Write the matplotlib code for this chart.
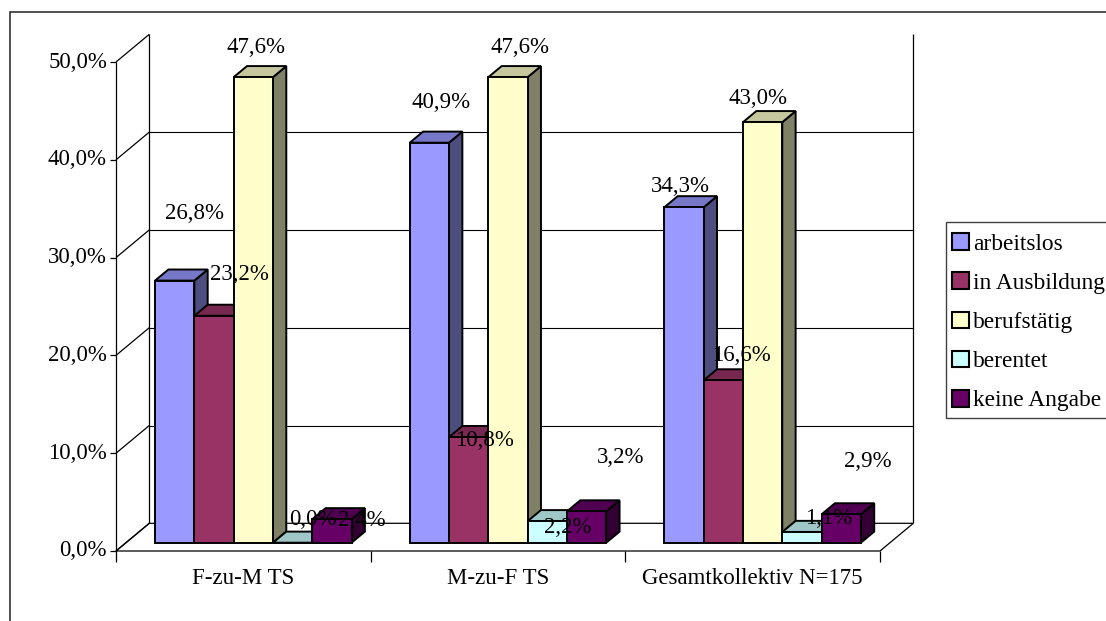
import matplotlib
matplotlib.use("Agg")
import matplotlib.pyplot as plt
from matplotlib.patches import Polygon, Rectangle, Patch
from matplotlib.colors import to_rgb

# ---- data -------------------------------------------------------------
categories = ["F-zu-M TS", "M-zu-F TS", "Gesamtkollektiv N=175"]
series = ["arbeitslos", "in Ausbildung", "berufstätig", "berentet", "keine Angabe"]
arbeitslos = [26.8, 40.9, 34.3]
in_ausbildung = [23.2, 10.8, 16.6]
berufstaetig = [47.6, 47.6, 43.0]
berentet = [0.0, 2.2, 1.1]
keine_angabe = [2.4, 3.2, 2.9]
y_ticks = [0, 10, 20, 30, 40, 50]

values = [arbeitslos, in_ausbildung, berufstaetig, berentet, keine_angabe]

# ---- style ------------------------------------------------------------
colors = ["#9999FF", "#993366", "#FFFFCC", "#CCFFFF", "#660066"]
FONT = "Liberation Serif"
FS = 16.5
plt.rcParams["font.family"] = [FONT, "DejaVu Serif"]

# label offsets (pixels, right / up) relative to the top-front centre of each bar
label_offsets = [
    [(20, 67), (25, 41), (3, 30), (20, 23), (30, -1)],
    [(12, 40), (16, -3), (12, 30), (20, -6), (34, 54)],
    [(-4, 21), (18, 25), (-5, 24), (27, 13), (27, 53)],
]

W, H = 1106, 621
fig = plt.figure(figsize=(W / 100, H / 100), dpi=100)
fig.patch.set_facecolor("white")

# front plane of the plot: x in category units, y in percent
AX_L, AX_R, AX_B, AX_T = 116, 880, 551, 62
ax = fig.add_axes([AX_L / W, (H - AX_B) / H, (AX_R - AX_L) / W, (AX_B - AX_T) / H])
ax.set_xlim(0, len(categories))
ax.set_ylim(0, 50)
ax.axis("off")

px_x = len(categories) / (AX_R - AX_L)   # category units per pixel
px_y = 50 / (AX_B - AX_T)                 # percent per pixel
DX = 33.3 * px_x                          # depth offset of the back wall
DY = 27.7 * px_y
BAR_W = 39.3 * px_x
GAP = (1 - len(series) * BAR_W) / 2
D0, D1 = 0.3, 0.7                         # depth range occupied by the bars


def P(x, v, d):
    return (x + d * DX, v + d * DY)


def line(p, q, **kw):
    ax.plot([p[0], q[0]], [p[1], q[1]], clip_on=False, solid_capstyle="butt", **kw)


def poly(pts, fc, lw=1.4, ec="black", z=2):
    ax.add_patch(Polygon(pts, closed=True, facecolor=fc, edgecolor=ec,
                         linewidth=lw, clip_on=False, joinstyle="miter", zorder=z))


def shade(c, f):
    r, g, b = to_rgb(c)
    return (r * f, g * f, b * f)


ncat = len(categories)
ymax = y_ticks[-1]

# walls and floor
poly([P(0, 0, 0), P(ncat, 0, 0), P(ncat, 0, 1), P(0, 0, 1)], "white", lw=0.9, z=1)
for t in y_ticks[1:-1]:
    line(P(0, t, 1), P(ncat, t, 1), color="black", lw=0.8, zorder=1)
line(P(0, 0, 1), P(0, ymax, 1), color="black", lw=0.9, zorder=1)
line(P(ncat, 0, 1), P(ncat, ymax, 1), color="black", lw=0.9, zorder=1)
line(P(0, 0, 0), P(0, ymax, 0), color="black", lw=0.9, zorder=1)
for t in y_ticks:
    line(P(0, t, 0), P(0, t, 1), color="black", lw=0.9, zorder=1)
    line(P(0, t, 0), P(-6 * px_x, t, 0), color="black", lw=0.9, zorder=1)
    ax.text(-9 * px_x, t, f"{t:.1f}".replace(".", ",") + "%", ha="right",
            va="center", fontsize=FS)
for i in range(ncat + 1):
    line(P(i, 0, 0), P(i, -11 * px_y, 0), color="black", lw=0.9, zorder=1)
for i, c in enumerate(categories):
    ax.text(i + 0.5, -27 * px_y, c, ha="center", va="center", fontsize=FS)

# bars
for i in range(ncat):
    for j, vals in enumerate(values):
        v = vals[i]
        x0 = i + GAP + j * BAR_W
        x1 = x0 + BAR_W
        col = colors[j]
        poly([P(x1, 0, D0), P(x1, 0, D1), P(x1, v, D1), P(x1, v, D0)], shade(col, 0.5))
        poly([P(x0, v, D0), P(x1, v, D0), P(x1, v, D1), P(x0, v, D1)], shade(col, 0.78))
        poly([P(x0, 0, D0), P(x1, 0, D0), P(x1, v, D0), P(x0, v, D0)], col)
        dx, dy = label_offsets[i][j]
        ax.annotate(f"{v:.1f}".replace(".", ",") + "%", xy=P(x0 + BAR_W / 2, v, D0),
                    xytext=(dx, dy), textcoords="offset pixels", ha="center",
                    va="center", fontsize=FS, zorder=5, annotation_clip=False)

# legend (frame drawn separately so the entries can sit close to its edge)
handles = [Patch(facecolor=c, edgecolor="black", linewidth=1.5) for c in colors]
fig.legend(handles, series, loc="upper left",
           bbox_to_anchor=(946 / W, 1 - 227.5 / H), frameon=False,
           borderaxespad=0, borderpad=0.25, handlelength=0.75,
           handleheight=0.72, handletextpad=0.17, labelspacing=0.757,
           prop={"family": FONT, "size": 16.8})
fig.patches.append(Rectangle((946 / W, (H - 418) / H), 170 / W, 196 / H,
                             transform=fig.transFigure, fill=False,
                             edgecolor="#404040", linewidth=1.0))

# chart area border
fig.patches.append(Rectangle((10 / W, -0.1), 1.2, (H - 12) / H + 0.1,
                             transform=fig.transFigure, fill=False,
                             edgecolor="#333333", linewidth=1.2))

fig.savefig("out.png", dpi=100)
